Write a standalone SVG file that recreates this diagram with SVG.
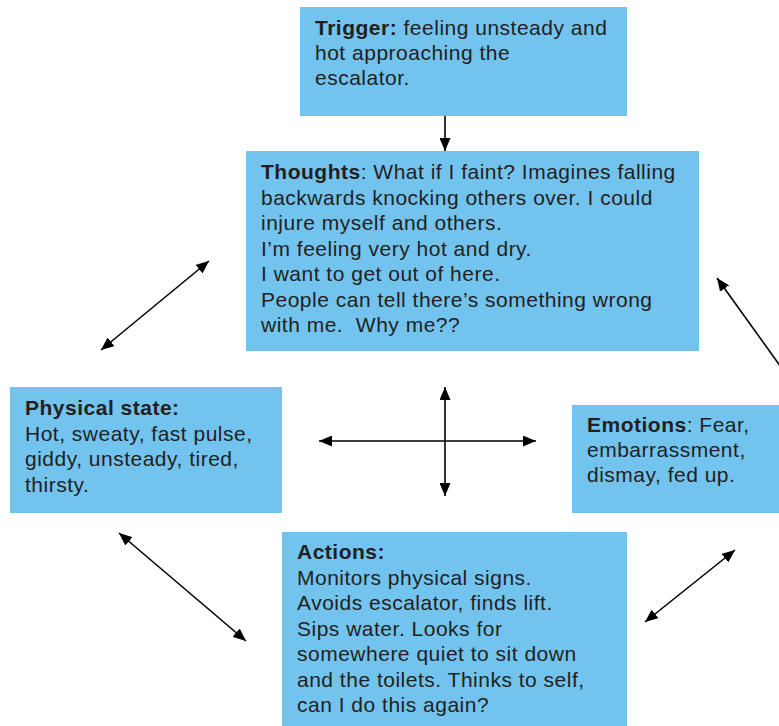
<svg xmlns="http://www.w3.org/2000/svg" width="779" height="726" viewBox="0 0 779 726">
<style>
.box{fill:#72C3EE;}
.t{font-family:"Liberation Sans",Arial,sans-serif;font-size:21px;letter-spacing:0.5px;fill:#231F20;}
.b{font-weight:bold;}
.c{stroke:#000;stroke-width:1.6;fill:none;marker-end:url(#ah);}
.d{marker-start:url(#ah);}
</style>
<defs>
<marker id="ah" viewBox="0 0 13 11" refX="13" refY="5.5" markerWidth="13" markerHeight="11" markerUnits="userSpaceOnUse" orient="auto-start-reverse">
<path d="M0,0 L13,5.5 L0,11 Z" fill="#000"/>
</marker>
</defs>
<rect width="779" height="726" fill="#fff"/>
<g id="trigger">
<rect class="box" x="300" y="7" width="327" height="109"/>
<text class="t" x="315" y="35"><tspan class="b">Trigger:</tspan> feeling unsteady and</text>
<text class="t" x="315" y="60">hot approaching the</text>
<text class="t" x="315" y="85">escalator.</text>
</g>
<g id="thoughts">
<rect class="box" x="246" y="151" width="453" height="200"/>
<text class="t" x="261" y="179"><tspan class="b">Thoughts</tspan>: What if I faint? Imagines falling</text>
<text class="t" x="261" y="204.5">backwards knocking others over. I could</text>
<text class="t" x="261" y="230">injure myself and others.</text>
<text class="t" x="261" y="255.5">I’m feeling very hot and dry.</text>
<text class="t" x="261" y="281">I want to get out of here.</text>
<text class="t" x="261" y="306.5">People can tell there’s something wrong</text>
<text class="t" x="261" y="332" xml:space="preserve">with me.  Why me??</text>
</g>
<g id="physical">
<rect class="box" x="10" y="387" width="272" height="126"/>
<text class="t b" x="25" y="415">Physical state:</text>
<text class="t" x="25" y="440.5">Hot, sweaty, fast pulse,</text>
<text class="t" x="25" y="466">giddy, unsteady, tired,</text>
<text class="t" x="25" y="491.5">thirsty.</text>
</g>
<g id="emotions">
<rect class="box" x="572" y="405" width="207" height="108"/>
<text class="t" x="587" y="432"><tspan class="b">Emotions</tspan>: Fear,</text>
<text class="t" x="587" y="457">embarrassment,</text>
<text class="t" x="587" y="482">dismay, fed up.</text>
</g>
<g id="actions">
<rect class="box" x="282" y="532" width="345" height="194"/>
<text class="t b" x="297" y="559">Actions:</text>
<text class="t" x="297" y="584.5">Monitors physical signs.</text>
<text class="t" x="297" y="610">Avoids escalator, finds lift.</text>
<text class="t" x="297" y="635.5">Sips water. Looks for</text>
<text class="t" x="297" y="661">somewhere quiet to sit down</text>
<text class="t" x="297" y="686.5">and the toilets. Thinks to self,</text>
<text class="t" x="297" y="712">can I do this again?</text>
</g>
<g id="connectors">
<line class="c" x1="445" y1="116" x2="445" y2="151"/>
<line class="c d" x1="101" y1="350" x2="209" y2="261"/>
<line class="c d" x1="717" y1="278" x2="791" y2="381"/>
<line class="c d" x1="319" y1="441" x2="536" y2="441"/>
<line class="c d" x1="445" y1="387" x2="445" y2="496"/>
<line class="c d" x1="119" y1="533" x2="246" y2="641"/>
<line class="c d" x1="645" y1="622" x2="735" y2="550"/>
</g>
</svg>
